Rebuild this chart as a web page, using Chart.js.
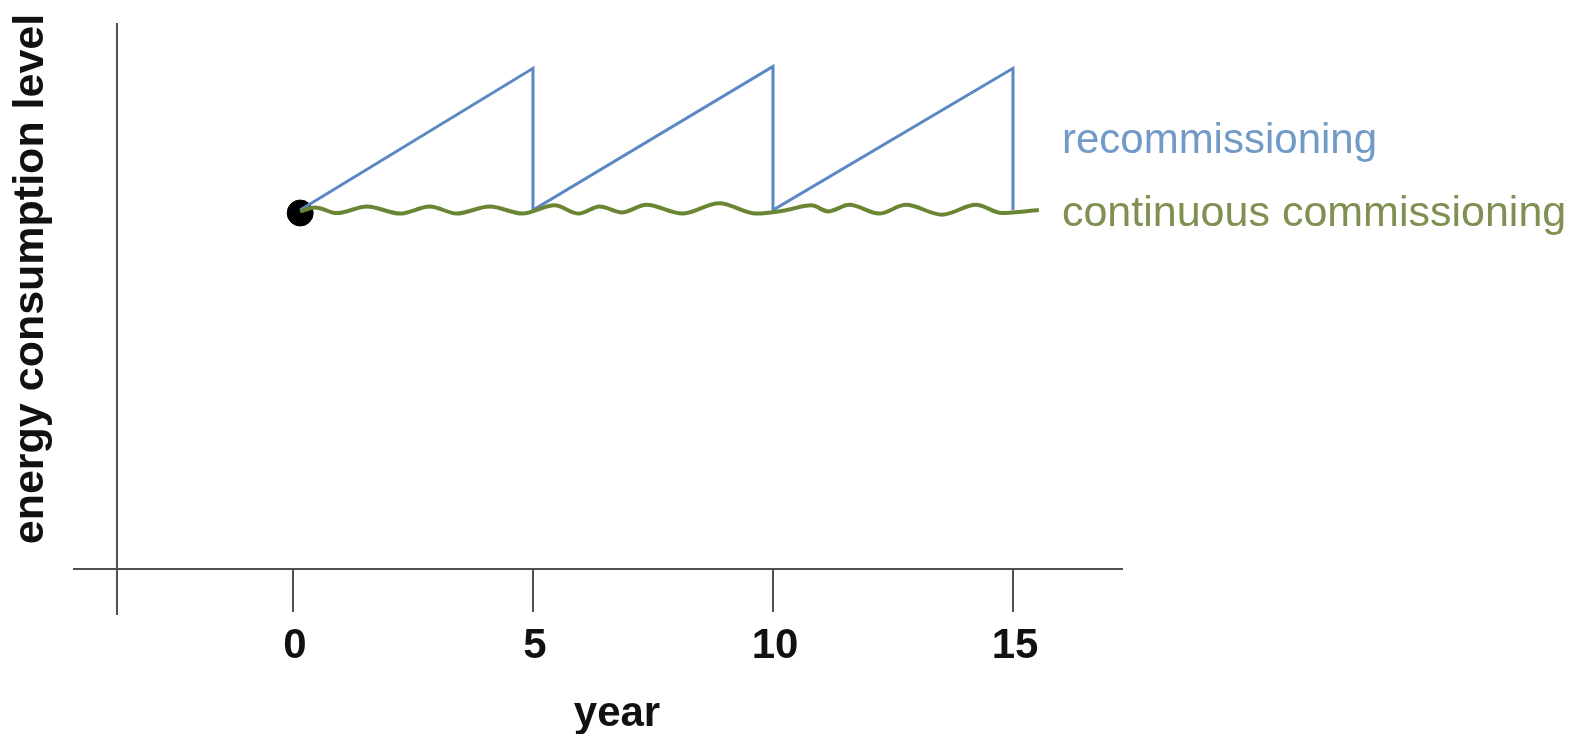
<!DOCTYPE html>
<html>
<head>
<meta charset="utf-8">
<script src="https://cdn.jsdelivr.net/npm/chart.js@4.4.1/dist/chart.umd.min.js"></script>
<style>
  html, body { margin: 0; padding: 0; background: #ffffff; }
  #grafico { display: block; }
</style>
</head>
<body>
<canvas id="grafico" width="1578" height="734"></canvas>
<script>
// valores (ano, nivel de consumo 0..100)
var tickYears = [0, 5, 10, 15];
var tickLabels = ['0', '5', '10', '15'];

var recommYears = [0.15, 5, 5, 10, 10, 15, 15];
var recommLevel = [65.75, 91.7, 65.75, 92.05, 65.75, 91.7, 65.75];

var contYears = [0.15, 0.46, 0.92, 1.54, 2.23, 2.85, 3.41, 4.10, 4.78, 5.45, 5.95, 6.39, 6.85, 7.36,
                 8.11, 8.88, 9.65, 10.2, 10.8, 11.15, 11.59, 12.21, 12.77, 13.52, 14.23, 14.77, 15.54];
var contLevel = [65.5, 66.2, 65.2, 66.4, 65.1, 66.4, 65.1, 66.4, 65.1, 66.6, 65.1, 66.4, 65.3, 66.7,
                 65.1, 67.0, 65.1, 65.6, 66.6, 65.5, 66.7, 65.1, 66.7, 64.9, 66.7, 65.2, 65.75];

var startYear = [0.15];
var startLevel = [65.2];

var seriesNames = ['recommissioning', 'continuous commissioning'];
var seriesColors = ['#729ac6', '#7f9052'];
var labelYears = [16.02, 16.02];
var labelLevels = [76.2, 62.8];

function pares(xs, ys) {
    return xs.map(function (x, i) { return { x: x, y: ys[i] }; });
}

// eixos cruzados, titulos e rotulos desenhados a partir das escalas do chart
var eixosPlugin = {
    id: 'eixos',
    beforeDatasetsDraw: function (chart) {
        var ctx = chart.ctx;
        var sx = chart.scales.x, sy = chart.scales.y;
        var y0 = sy.getPixelForValue(0);
        ctx.save();
        ctx.strokeStyle = '#505050';
        ctx.lineWidth = 2;
        ctx.beginPath();
        ctx.moveTo(sx.left, y0);
        ctx.lineTo(sx.right, y0);
        var xEixo = sx.getPixelForValue(-3.667);
        ctx.moveTo(xEixo, sy.top);
        ctx.lineTo(xEixo, sy.bottom);
        tickYears.forEach(function (t) {
            var px = sx.getPixelForValue(t);
            ctx.moveTo(px, y0);
            ctx.lineTo(px, sy.getPixelForValue(-7.88));
        });
        ctx.stroke();
        ctx.restore();
    },
    afterDraw: function (chart) {
        var ctx = chart.ctx;
        var sx = chart.scales.x, sy = chart.scales.y;
        ctx.save();
        ctx.fillStyle = '#111111';
        ctx.font = 'bold 42px "Liberation Sans", Arial, sans-serif';
        ctx.textAlign = 'center';
        ctx.textBaseline = 'alphabetic';
        tickYears.forEach(function (t, i) {
            ctx.fillText(tickLabels[i], sx.getPixelForValue(t) + 2, 658);
        });
        ctx.fillText('year', 617, 726);

        ctx.save();
        ctx.translate(43, 279);
        ctx.rotate(-Math.PI / 2);
        ctx.font = 'bold 43px "Liberation Sans", Arial, sans-serif';
        ctx.fillText('energy consumption level', 0, 0);
        ctx.restore();

        ctx.textAlign = 'left';
        ctx.font = '42px "Liberation Sans", Arial, sans-serif';
        seriesNames.forEach(function (nome, i) {
            ctx.fillStyle = seriesColors[i];
            if (i === 1) ctx.font = '43px "Liberation Sans", Arial, sans-serif';
            ctx.fillText(nome, sx.getPixelForValue(labelYears[i]), sy.getPixelForValue(labelLevels[i]));
        });
        ctx.restore();
    }
};

var config = {
    type: 'scatter',
    data: {
        datasets: [
            {
                label: 'continuous commissioning',
                data: pares(contYears, contLevel),
                showLine: true,
                borderColor: '#6a8634',
                borderWidth: 4,
                cubicInterpolationMode: 'monotone',
                pointRadius: 0
            },
            {
                label: 'recommissioning',
                data: pares(recommYears, recommLevel),
                showLine: true,
                borderColor: '#5b88c2',
                borderWidth: 3,
                tension: 0,
                pointRadius: 0
            },
            {
                label: 'start',
                data: pares(startYear, startLevel),
                pointRadius: 13,
                pointBackgroundColor: '#000000',
                pointBorderColor: '#000000',
                pointBorderWidth: 1
            }
        ]
    },
    options: {
        responsive: false,
        animation: false,
        devicePixelRatio: 1,
        layout: { padding: { left: 73, right: 455, top: 23, bottom: 119 } },
        plugins: { legend: { display: false }, tooltip: { enabled: false } },
        scales: {
            x: { type: 'linear', min: -4.583, max: 17.292, display: false },
            y: { type: 'linear', min: -8.42, max: 100, display: false }
        }
    },
    plugins: [eixosPlugin]
};

var meuGrafico = new Chart(document.getElementById('grafico'), config);
</script>
</body>
</html>
